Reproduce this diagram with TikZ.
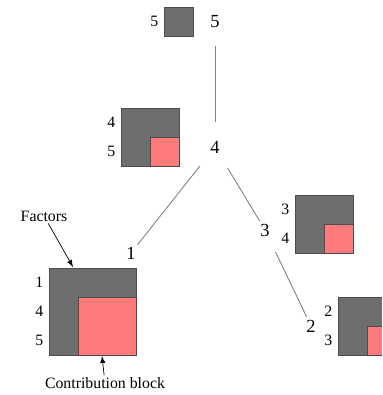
\documentclass[tikz,border=0pt]{standalone}
\usepackage{fontspec}
\setmainfont{Liberation Serif}
\definecolor{factorgray}{RGB}{110,110,110}
\definecolor{cbpink}{RGB}{255,122,122}
\tikzset{
  treenode/.style={circle, inner sep=0pt, minimum size=0.4cm, font=\fontsize{10.5}{12}\selectfont},
  treeedge/.style={draw=gray, line width=0.5pt, shorten <=0.28cm},
  rowlabel/.style={left, inner sep=3pt, font=\fontsize{9}{11}\selectfont},
  factorbox/.style={fill=factorgray, draw=black!70, line width=0.4pt},
  cbbox/.style={fill=cbpink, draw=black!70, line width=0.4pt},
  note/.style={font=\fontsize{9}{11}\selectfont, inner sep=1pt}
}

\begin{document}
\begin{tikzpicture}
      \useasboundingbox (0,0) rectangle (7.64,7.9);
      \clip (0,0) rectangle (7.64,7.9);
      \node[treenode] (n5) at (4.3,7.46) {5};
      \node[treenode] (n4) at (4.3,4.96) {4};
      \node[treenode] (n1) at (2.62,2.84) {1};
      \node[treenode] (n3) at (5.3,3.3) {3};
      \node[treenode] (n2) at (6.22,1.38) {2};
      \draw[treeedge, shorten >=0.3cm] (n5) -- (n4);
      \draw[treeedge] (n4) -- (n1);
      \draw[treeedge] (n4) -- (n3);
      \draw[treeedge] (n3) -- (n2);
      \draw[factorbox] (3.28,7.18) rectangle ++(0.58,0.58);
      \foreach \X/\Y/\N in {2.42/4.58/2, 0.98/0.8/3, 5.9/2.84/2, 6.76/0.8/2}
{\draw[factorbox] (\X,\Y) rectangle ++({\N*0.58},{\N*0.58});
 \draw[cbbox] ({\X+0.58},\Y) rectangle ++({\N*0.58-0.58},{\N*0.58-0.58});}
      \foreach \Point/\PointLabel [count=\i] in {(3.28,7.47)/5, (2.42,5.45)/4, (2.42,4.87)/5,
        (0.98,2.25)/1, (0.98,1.67)/4, (0.98,1.09)/5, (5.9,3.71)/3, (5.9,3.13)/4,
        (6.76,1.67)/2, (6.76,1.09)/3}
\node[rowlabel] (row\i) at \Point {\PointLabel};
\node [note] (factors) at (0.88,3.58) {Factors};
\coordinate (factortop) at (1.46,2.56);
\draw[-latex] (factors) -- (factortop);
\node [note] (cblabel) at (2.1,0.24) {Contribution block};
\coordinate (cbbottom) at (2.04,0.78);
\draw[-latex] (cblabel) -- (cbbottom);
    \end{tikzpicture}
\end{document}
